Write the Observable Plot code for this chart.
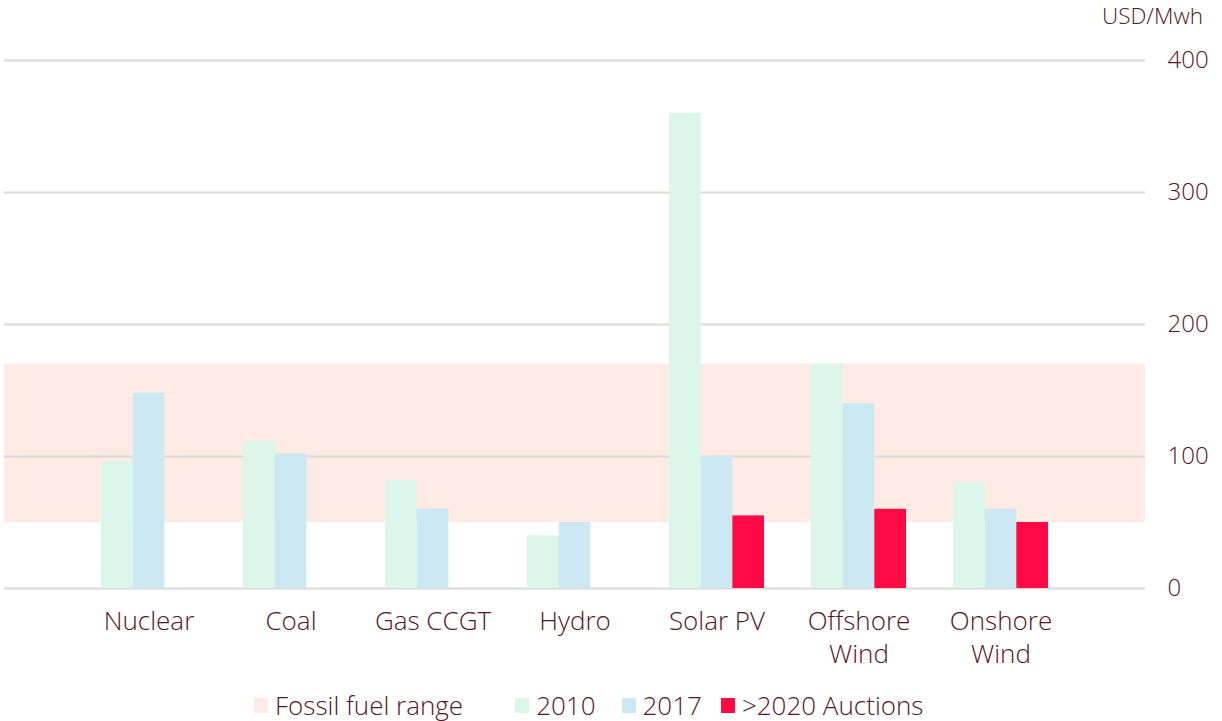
<!DOCTYPE html>
<html>
<head>
<meta charset="utf-8">
<script src="https://cdn.jsdelivr.net/npm/d3@7"></script>
<script src="https://cdn.jsdelivr.net/npm/@observablehq/plot@0.6"></script>
<style>
  html, body { margin: 0; padding: 0; background: #ffffff; }
  body { width: 1222px; height: 721px; overflow: hidden; font-family: "Open Sans", sans-serif; font-weight: 300; color: #561427; }
  #legend { position: relative; height: 30px; display: flex; align-items: center; padding-left: 254px; font-size: 26px; line-height: 1; }
  .item { display: flex; align-items: center; }
  .item span { line-height: 1; }
  .sw { width: 14px; height: 15px; margin-right: 7px; }
</style>
</head>
<body>
<div id="chart"></div>
<div id="legend"></div>
<script>
const categories = ["Nuclear", "Coal", "Gas CCGT", "Hydro", "Solar PV", "Offshore Wind", "Onshore Wind"];
const xTickLabels = ["Nuclear", "Coal", "Gas CCGT", "Hydro", "Solar PV", "Offshore\nWind", "Onshore\nWind"];
const series = ["2010", "2017", ">2020 Auctions"];
const values2010 = [96, 111, 82, 40, 360, 170, 80];
const values2017 = [148, 102, 60, 50, 100, 140, 60];
const valuesAuctions = [null, null, null, null, 55, 60, 50];
const fossilRange = [50, 170];
const yTicks = [0, 100, 200, 300, 400];
const yUnit = "USD/Mwh";
const legendLabels = ["Fossil fuel range", "2010", "2017", ">2020 Auctions"];

const colors = {fossil: "#fdebe4", s2010: "#dcf7ea", s2017: "#cce9f3", auction: "#ff0a45", text: "#561427", grid: "#d9d9d9"};
const seriesColors = [colors.s2010, colors.s2017, colors.auction];

const W = 1222, H = 690;
const mL = 4, mR = 77, mT = 60, mB = 102;
const padIn = 0.333, padOut = 0.674;
const step = (W - mR - mL) / (categories.length - padIn + 2 * padOut);
const bw = step * (1 - padIn);
const slot = bw / series.length;

const allValues = [values2010, values2017, valuesAuctions];
const barMarks = allValues.map((vals, i) => {
  const rows = categories.map((c, j) => ({cat: c, value: vals[j], series: series[i]})).filter(d => d.value != null);
  return Plot.barY(rows, {
    x: "cat", y: "value", fill: seriesColors[i],
    insetLeft: i * slot, insetRight: (series.length - 1 - i) * slot
  });
});

const chart = Plot.plot({
  width: W, height: H,
  marginLeft: mL, marginRight: mR, marginTop: mT, marginBottom: mB,
  style: {fontFamily: "'Open Sans', sans-serif", fontWeight: 300, color: colors.text, background: "white", overflow: "visible"},
  x: {domain: categories, paddingInner: padIn, paddingOuter: padOut},
  y: {domain: [0, 400]},
  marks: [
    Plot.rectY([fossilRange], {y1: d => d[0], y2: d => d[1], fill: colors.fossil}),
    Plot.ruleY(yTicks, {stroke: colors.grid, strokeWidth: 2}),
    ...barMarks,
    Plot.axisY({anchor: "right", ticks: yTicks, tickSize: 0, tickPadding: 22, fontSize: 24, label: null, fill: colors.text}),
    Plot.axisX({tickSize: 0, tickPadding: 19, fontSize: 26, lineHeight: 1.24, label: null, fill: colors.text,
      tickFormat: d => xTickLabels[categories.indexOf(d)]}),
    Plot.text([yUnit], {frameAnchor: "top-right", dx: 7, dy: -37, textAnchor: "middle", lineAnchor: "bottom", fontSize: 22.5, fill: colors.text})
  ]
});
document.getElementById("chart").appendChild(chart);

const legend = document.getElementById("legend");
const legendColors = [colors.fossil, colors.s2010, colors.s2017, colors.auction];
const gaps = [52, 26, 19, 0];
legendLabels.forEach((lab, i) => {
  const it = document.createElement("div");
  it.className = "item";
  it.style.marginRight = gaps[i] + "px";
  const sw = document.createElement("div");
  sw.className = "sw";
  sw.style.background = legendColors[i];
  const tx = document.createElement("span");
  tx.textContent = lab;
  it.appendChild(sw); it.appendChild(tx);
  legend.appendChild(it);
});
</script>
</body>
</html>
